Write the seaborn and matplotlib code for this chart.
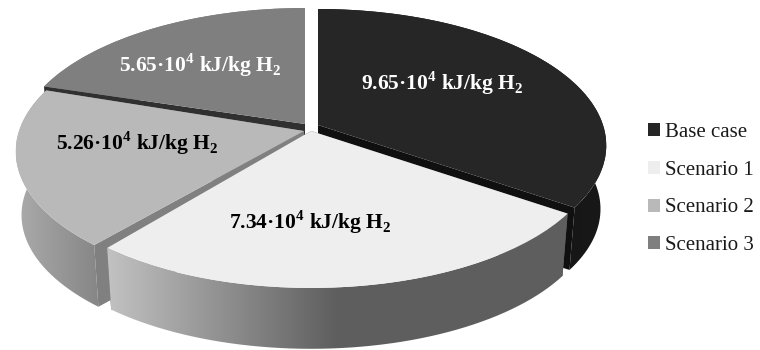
import numpy as np
import matplotlib
matplotlib.use("Agg")
import matplotlib.pyplot as plt
import seaborn as sns
from matplotlib.patches import PathPatch, Polygon
from matplotlib.path import Path
from matplotlib.transforms import Transform
from matplotlib.colors import LinearSegmentedColormap

categories = ["Base case", "Scenario 1", "Scenario 2", "Scenario 3"]
values = [9.65, 7.34, 5.26, 5.65]
value_labels = ["9.65", "7.34", "5.26", "5.65"]
top_colors = ["#262626", "#eeeeee", "#b9b9b9", "#7f7f7f"]

# projection of the tilted pie, in pixels
apexes = [(318, 125), (311, 131), (304, 131), (305, 124)]
turns = [0.0, 0.0, -1.5, 0.0]
A, B, K = 285.0, 133.4, 0.15
DEPTH, SHRINK = 64.0, 0.98
wall_stops = [["#0c0c0c", "#181818"],
              ["#c2c2c2", "#5e5e5e", "#5e5e5e"],
              ["#ababab", "#868686"],
              ["#7f7f7f", "#7f7f7f"]]
face_colors = ["#101010", "#5e5e5e", "#808080", "#303030"]
face_over_rim = [True, False, True, True]
label_xy = [(442, 83), (310, 222), (137, 143), (200, 65)]
label_colors = ["white", "black", "black", "white"]
draw_order = [3, 0, 2, 1]

sns.set_theme(style="white")
plt.rcParams["font.family"] = ["Liberation Serif", "DejaVu Sans"]
plt.rcParams["mathtext.fontset"] = "custom"
plt.rcParams["mathtext.bf"] = "Liberation Serif:bold"
plt.rcParams["mathtext.rm"] = "Liberation Serif"


def project(xy, apex, turn=0.0, lower=False):
    xy = np.atleast_2d(xy)
    c, s = np.cos(np.radians(turn)), np.sin(np.radians(turn))
    x = c * xy[:, 0] - s * xy[:, 1]
    y = s * xy[:, 0] + c * xy[:, 1]
    den = 1 + K * y
    px = A * x / den
    py = -B * y / den
    if lower:
        px, py = px * SHRINK, py * SHRINK + DEPTH
    return np.column_stack([apex[0] + px, apex[1] + py])


class Tilt(Transform):
    input_dims = 2
    output_dims = 2

    def __init__(self, apex, turn):
        super().__init__()
        self.apex = apex
        self.turn = turn

    def transform_non_affine(self, values):
        return project(values, self.apex, self.turn)


fig = plt.figure(figsize=(7.6, 3.5), dpi=100)
ax = fig.add_axes([0, 0, 1, 1])
wedges, _ = ax.pie(values, colors=sns.color_palette(top_colors), startangle=90,
                   counterclock=False, radius=1, frame=False,
                   wedgeprops={"linewidth": 0})

for rank, i in enumerate(draw_order):
    w, apex, turn = wedges[i], apexes[i], turns[i]
    z = 2 + rank * 3
    t = np.radians(np.linspace(w.theta1, w.theta2, 160))
    rim = np.column_stack([np.cos(t), np.sin(t)])
    up, low = project(rim, apex, turn), project(rim, apex, turn, lower=True)

    # rim with horizontal shading
    poly = np.vstack([up, low[::-1]])
    x0, x1 = poly[:, 0].min(), poly[:, 0].max()
    y0, y1 = poly[:, 1].min(), poly[:, 1].max()
    cmap = LinearSegmentedColormap.from_list(f"w{i}", wall_stops[i])
    im = ax.imshow(np.linspace(0, 1, 256)[None, :], cmap=cmap, vmin=0, vmax=1,
                   extent=(x0, x1, y1, y0), aspect="auto", zorder=z)
    im.set_clip_path(PathPatch(Path(poly, closed=False), transform=ax.transData))

    # cut faces
    centre_up = project([[0, 0]], apex, turn)
    centre_low = project([[0, 0]], apex, turn, lower=True)
    face_z = z + 1 if face_over_rim[i] else z - 0.5
    for end_up, end_low in ((up[0], low[0]), (up[-1], low[-1])):
        ax.add_patch(Polygon(np.vstack([centre_up, end_up, end_low, centre_low]),
                             closed=True, fc=face_colors[i], ec="none", zorder=face_z))

    # top face
    w.set_transform(Tilt(apex, turn) + ax.transData)
    w.set_zorder(z + 2)

ax.set_aspect("auto")
ax.set_xlim(0, 760)
ax.set_ylim(350, 0)
ax.axis("off")

for v, (x, y), c in zip(value_labels, label_xy, label_colors):
    ax.text(x, y, v + r"·10$^{\mathbf{4}}$ kJ/kg H$_{\mathbf{2}}$", ha="center", va="center",
            color=c, fontsize=15.5, fontweight="bold", zorder=30)

ax.legend(wedges, categories, loc="center left", bbox_to_anchor=(648, 189),
          bbox_transform=ax.transData, frameon=False, fontsize=15,
          handlelength=0.58, handleheight=0.58, handletextpad=0.25,
          labelspacing=0.905, borderpad=0, borderaxespad=0, labelcolor="#1a1a1a")

fig.savefig("out.png", dpi=100, facecolor="white")
